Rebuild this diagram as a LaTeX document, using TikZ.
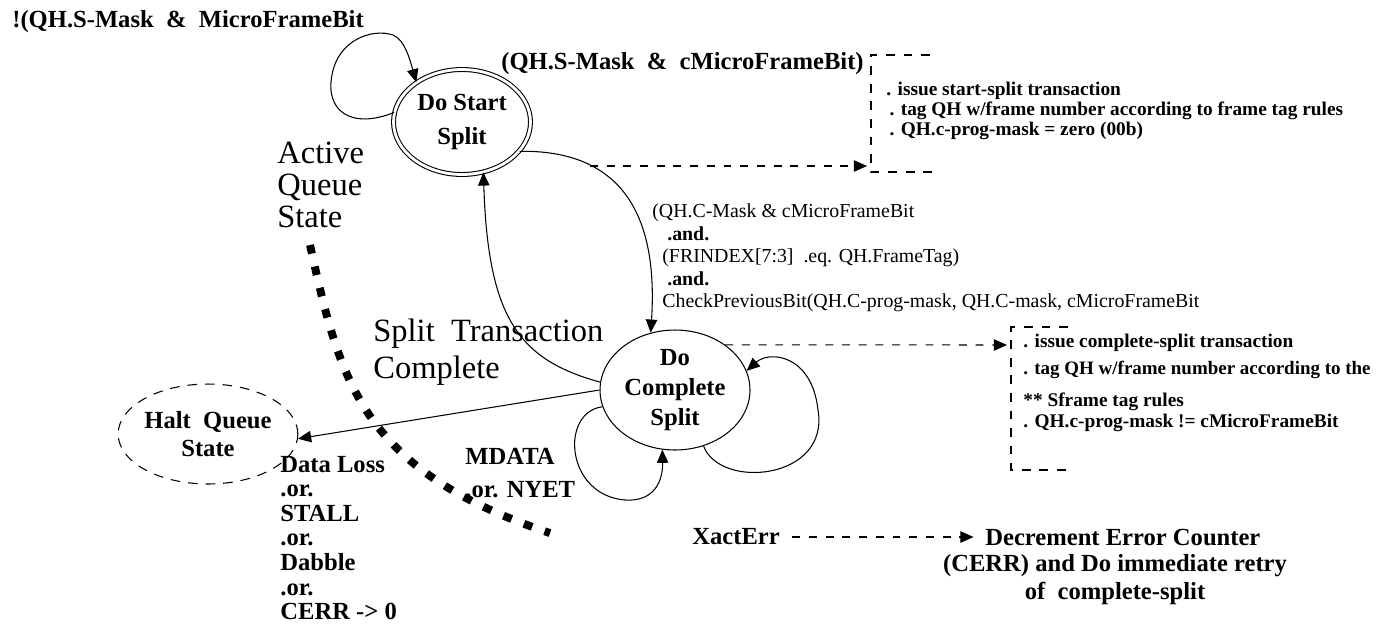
\documentclass[tikz,border=0pt]{standalone}
\usepackage{fontspec}
\setmainfont{Liberation Serif}
\usetikzlibrary{arrows.meta,shapes.geometric}

\begin{document}
\begin{tikzpicture}[x=0.02cm,y=-0.02cm]
\tikzset{
  statenode/.style={ellipse,draw,line width=0.6pt,inner sep=0pt,align=center},
  directed/.style={-{Triangle[length=7.5pt,width=6.5pt]},line width=0.6pt},
  dashdirected/.style={directed,dash pattern=on 4.5pt off 5pt},
  bracketline/.style={line width=0.6pt,dash pattern=on 5pt off 5pt},
  boldlabel/.style={inner sep=0pt,anchor=west,align=left,font=\fontsize{14}{14}\selectfont\bfseries},
  notelabel/.style={inner sep=0pt,anchor=west,align=left,font=\fontsize{11}{11.6}\selectfont\bfseries},
  biglabel/.style={inner sep=0pt,anchor=west,align=left,font=\fontsize{18.5}{18}\selectfont},
  dotline/.style={line width=4.5pt,dash pattern=on 5pt off 7.5pt}
}
\useasboundingbox (0,0) rectangle (1379,623);
% states
\node[statenode,double,double distance=1.6pt,minimum width=2.74cm,minimum height=2.1cm,
  font=\fontsize{14}{19}\selectfont\bfseries] (n_start) at (462,122) {Do Start\\Split};
\node[statenode,minimum width=3cm,minimum height=2.4cm,
  font=\fontsize{14}{17}\selectfont\bfseries] (n_complete) at (675,390) {Do\\Complete\\Split};
\node[statenode,dash pattern=on 5.5pt off 4.5pt,minimum width=2.6cm,minimum height=2cm,
  font=\fontsize{14}{16.4}\selectfont\bfseries] (n_halt) at (208,434) {Halt~ Queue\\State};
% labels
\node[boldlabel] (n_notmask) at (12,22) {!(QH.S-Mask~ \&~ MicroFrameBit};
\node[boldlabel] (n_smask) at (501,64) {(QH.S-Mask~ \&~ cMicroFrameBit)};
\node[notelabel] (n_notestart) at (886,111) {. issue start-split transaction\\
  \,. tag QH w/frame number according to frame tag rules\\
  \,. QH.c-prog-mask = zero (00b)};
\node[inner sep=0pt,anchor=west,align=left,font=\fontsize{11.3}{12.8}\selectfont] (n_cmask) at (652,258)
  {(QH.C-Mask \& cMicroFrameBit\\
   \hspace*{8.5pt}\textbf{.and.}\\
   \hspace*{5.7pt}(FRINDEX[7:3]~ .eq. QH.FrameTag)\\
   \hspace*{8.5pt}\textbf{.and.}\\
   \hspace*{5.7pt}CheckPreviousBit(QH.C-prog-mask, QH.C-mask, cMicroFrameBit};
\node[notelabel] (n_notecomp1) at (1023,343) {. issue complete-split transaction};
\node[notelabel,font=\fontsize{10.8}{11}\selectfont\bfseries] (n_notecomp2) at (1023,370) {. tag QH w/frame number according to the};
\node[notelabel] (n_notecomp3) at (1023,402) {** Sframe tag rules};
\node[notelabel] (n_notecomp4) at (1023,423) {. QH.c-prog-mask != cMicroFrameBit};
\node[biglabel] (n_active) at (277,185) {Active\\Queue\\State};
\node[biglabel,font=\fontsize{18.5}{21}\selectfont] (n_splitdone) at (373,352) {Split~ Transaction\\Complete};
\node[boldlabel] (n_loss) at (280,538) {Data Loss\\.or.\\STALL\\.or.\\Dabble\\.or.\\CERR -> 0};
\node[boldlabel,font=\fontsize{14}{18.7}\selectfont\bfseries] (n_mdata) at (465,473) {MDATA\\.or. NYET};
\node[boldlabel] (n_xact) at (692,537) {XactErr};
\node[boldlabel] (n_decr) at (985,537) {Decrement Error Counter};
\node[inner sep=0pt,align=center,font=\fontsize{14}{15.9}\selectfont\bfseries] (n_retry) at (1115,580)
  {(CERR) and Do immediate retry\\of~ complete-split};
% note brackets
\coordinate (c_boxone) at (871,166);
\coordinate (c_boxtwo) at (1011,345);
\coordinate (c_startdash) at (590,166);
\draw[bracketline] (930,55) -- (871,55) -- (871,172) -- (935,172);
\draw[bracketline] (1068,327) -- (1011,327) -- (1011,470) -- (1070,470);
% active queue boundary
\draw[dotline] (310,245) .. controls (340,380) and (360,470) .. (550,533);
% transitions
\draw[directed] (n_start.172) .. controls (350,130) and (325,110) .. (332,75)
  .. controls (338,40) and (372,28) .. (393,35) .. controls (405,40) and (410,60) .. (n_start.139);
\draw[directed] (n_start.333) .. controls (600,150) and (660,190) .. (n_complete.113);
\draw[directed] (n_complete.174) .. controls (520,360) and (488,320) .. (n_start.293);
\draw[directed] (n_complete.west) -- (n_halt.357);
\draw[directed] (n_complete.297) .. controls (720,490) and (830,480) .. (818,410)
  .. controls (812,355) and (770,350) .. (n_complete.15);
\draw[directed] (n_complete.193) .. controls (560,412) and (565,495) .. (625,500)
  .. controls (655,502) and (663,480) .. (n_complete.258);
\draw[dashdirected] (c_startdash) -- ([xshift=-4*0.02cm]c_boxone);
\draw[dashdirected] (n_complete.42) -- ([xshift=-4*0.02cm]c_boxtwo);
\draw[dashdirected,shorten <=7pt,shorten >=6.5pt] (n_xact.east) -- (n_decr.west);
\end{tikzpicture}
\end{document}
